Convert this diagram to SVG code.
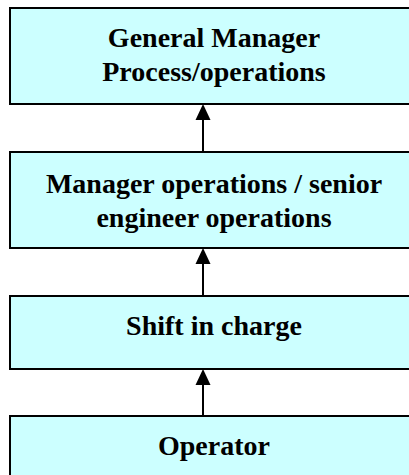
<svg xmlns="http://www.w3.org/2000/svg" width="409" height="475" viewBox="0 0 409 475">
<style>
.box{fill:#CCFFFF;stroke:#000;stroke-width:2}
.t{font-family:"Liberation Serif","Times New Roman",serif;font-weight:bold;font-size:28px;fill:#000;text-anchor:middle}
.c{stroke:#000;stroke-width:2;fill:none}
.h{fill:#000}
</style>
<rect width="409" height="475" fill="#fff"/>
<g id="n1"><rect class="box" x="10" y="8" width="410" height="96"/><text class="t" x="214" y="47">General Manager</text><text class="t" x="214" y="81">Process/operations</text></g>
<g id="n2"><rect class="box" x="10" y="152" width="410" height="96"/><text class="t" x="214" y="193">Manager operations / senior</text><text class="t" x="214" y="227">engineer operations</text></g>
<g id="n3"><rect class="box" x="10" y="296" width="410" height="73"/><text class="t" x="214" y="335">Shift in charge</text></g>
<g id="n4"><rect class="box" x="10" y="416" width="410" height="80"/><text class="t" x="214" y="455">Operator</text></g>
<g id="connectors">
<line class="c" x1="203" y1="152" x2="203" y2="118"/><polygon class="h" points="203,104 195.5,120 210.5,120"/>
<line class="c" x1="203" y1="296" x2="203" y2="262"/><polygon class="h" points="203,248 195.5,264 210.5,264"/>
<line class="c" x1="203" y1="416" x2="203" y2="382"/><polygon class="h" points="203,369 195.5,385 210.5,385"/>
</g>
</svg>
